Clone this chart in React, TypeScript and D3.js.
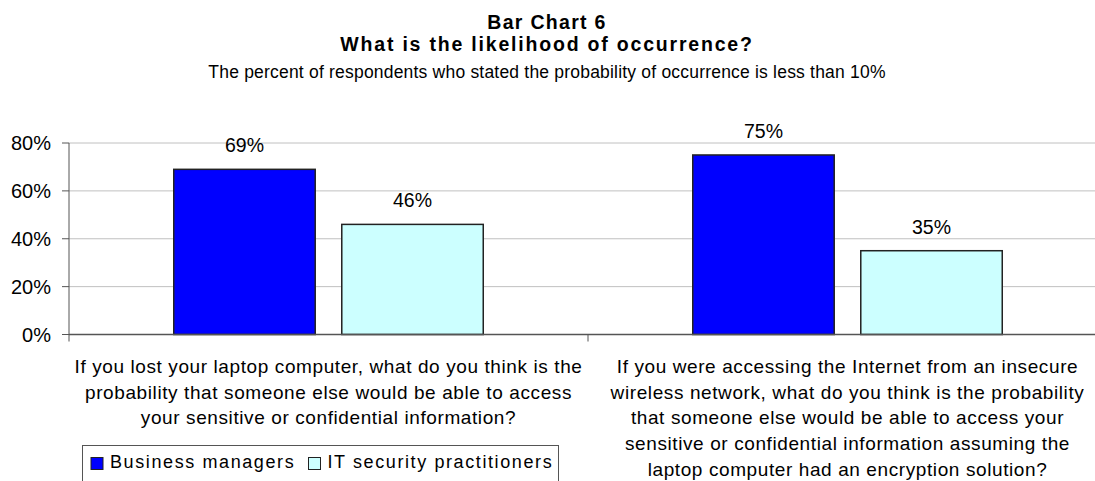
import React from "react";
import * as d3 from "d3";

const categories = ["cat1", "cat2"];
const categoryLines = [
  [
    "If you lost your laptop computer, what do you think is the",
    "probability that someone else would be able to access",
    "your sensitive or confidential information?",
  ],
  [
    "If you were accessing the Internet from an insecure",
    "wireless network, what do you think is the probability",
    "that someone else would be able to access your",
    "sensitive or confidential information assuming the",
    "laptop computer had an encryption solution?",
  ],
];
const seriesNames = ["Business managers", "IT security practitioners"];
const businessManagers = [0.69, 0.75];
const itSecurity = [0.46, 0.35];
const yTicks = [0, 0.2, 0.4, 0.6, 0.8];
const colors = ["#0000FF", "#CCFFFF"];

const W = 1095;
const H = 481;
const FONT = "'Liberation Sans', Arial, sans-serif";

export default function App() {
  const x0 = d3.scaleBand<string>().domain(categories).range([69, 1107]);
  const cw = x0.bandwidth();
  const x1 = d3
    .scaleBand<string>()
    .domain(seriesNames)
    .range([104.75, cw - 104.75])
    .paddingInner(0.158);
  const y = d3.scaleLinear().domain([0, 0.8]).range([334.5, 143]);
  const values = [businessManagers, itSecurity];
  const fmt = d3.format(".0%");

  return (
    <div style={{ position: "absolute", left: 0, top: 0 }}>
      <svg width={W} height={H} style={{ display: "block", fontFamily: FONT }}>
        <rect width={W} height={H} fill="#fff" />
        <text x={547} y={29} textAnchor="middle" fontSize={19.5} fontWeight="bold" letterSpacing={1.3}>Bar Chart 6</text>
        <text x={547} y={50.5} textAnchor="middle" fontSize={19.5} fontWeight="bold" letterSpacing={1.8}>What is the likelihood of occurrence?</text>
        <text x={547} y={77.5} textAnchor="middle" fontSize={17.5} letterSpacing={0.2}>The percent of respondents who stated the probability of occurrence is less than 10%</text>

        {yTicks.map((t) => (
          <g key={t}>
            {t > 0 && <line x1={69} x2={W} y1={y(t)} y2={y(t)} stroke="#c0c0c0" strokeWidth={1} />}
            <line x1={62} x2={69} y1={y(t)} y2={y(t)} stroke="#555" />
            <text x={51} y={y(t) + 7} textAnchor="end" fontSize={20}>{fmt(t)}</text>
          </g>
        ))}

        {categories.map((c, ci) =>
          seriesNames.map((s, si) => {
            const v = values[si][ci];
            const bx = x0(c)! + x1(s)!;
            return (
              <g key={c + s}>
                <rect x={bx} y={y(v)} width={x1.bandwidth()} height={y(0) - y(v)} fill={colors[si]} stroke="#222" strokeWidth={1.5} />
                <text x={bx + x1.bandwidth() / 2} y={y(v) - 17} textAnchor="middle" fontSize={19.5}>{fmt(v)}</text>
              </g>
            );
          })
        )}

        <line x1={69} x2={69} y1={y(0.8)} y2={y(0) + 7} stroke="#555" />
        <line x1={69} x2={W} y1={y(0)} y2={y(0)} stroke="#555" strokeWidth={1.5} />
        {categories.map((c) => (
          <line key={c} x1={x0(c)! + cw} x2={x0(c)! + cw} y1={y(0)} y2={y(0) + 7} stroke="#555" />
        ))}

        {categories.map((c, ci) =>
          categoryLines[ci].map((l, li) => (
            <text key={c + li} x={x0(c)! + cw / 2} y={373 + li * 25.7} textAnchor="middle" fontSize={19} letterSpacing={0.6}>{l}</text>
          ))
        )}

        <rect x={82.5} y={445.5} width={476} height={50} fill="#fff" stroke="#555" />
        {seriesNames.map((s, i) => {
          const lx = i === 0 ? 91 : 308.5;
          return (
            <g key={s}>
              <rect x={lx} y={457.5} width={12} height={12} fill={colors[i]} stroke="#222" />
              <text x={lx + 19} y={468} fontSize={18} letterSpacing={1.6}>{s}</text>
            </g>
          );
        })}
      </svg>
    </div>
  );
}
